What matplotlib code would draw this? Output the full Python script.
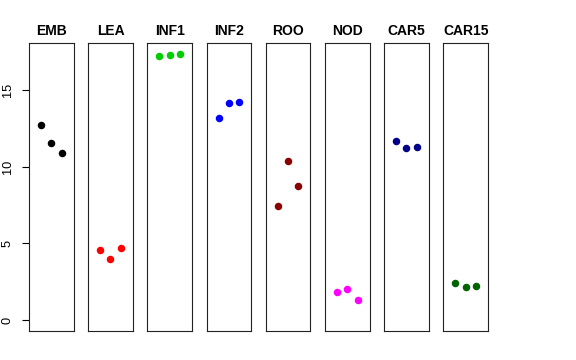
import matplotlib
matplotlib.use("Agg")
import matplotlib.pyplot as plt

plt.rcParams['font.family'] = ['Liberation Sans', 'DejaVu Sans']

tissues = ["EMB", "LEA", "INF1", "INF2", "ROO", "NOD", "CAR5", "CAR15"]
colors = ["black", "red", "#00CD00", "blue", "#8B0000", "magenta", "#00008B", "#006400"]

emb = [12.68, 11.53, 10.90]
lea = [4.60, 3.99, 4.68]
inf1 = [17.17, 17.27, 17.32]
inf2 = [13.15, 14.15, 14.22]
roo = [7.43, 10.36, 8.76]
nod = [1.86, 2.06, 1.30]
car5 = [11.68, 11.23, 11.27]
car15 = [2.43, 2.17, 2.21]

reps = [1, 2, 3]
yticks = [0, 5, 10, 15]

series = [emb, lea, inf1, inf2, roo, nod, car5, car15]

W, H = 576, 360
fig = plt.figure(figsize=(W / 100, H / 100), dpi=100)

ylo, yhi = 0, 17.32
pad = (yhi - ylo) * 0.04

for i, (name, vals, col) in enumerate(zip(tissues, series, colors)):
    left = 29 + i * 59.2
    ax = fig.add_axes([left / W, 1 - 331 / H, 44.5 / W, (331 - 43.3) / H])
    ax.plot(reps, vals, 'o', color=col, markersize=4.4, linestyle='none')
    ax.set_xlim(0 - 0.16, 4 + 0.16)
    ax.set_ylim(ylo - pad, yhi + pad)
    ax.set_xticks([])
    for s in ax.spines.values():
        s.set_linewidth(0.8)
        s.set_color("#222222")
    ax.set_title(name, fontsize=10, fontweight='bold', pad=6)
    if i == 0:
        ax.set_yticks(yticks)
        ax.set_yticklabels([str(t) for t in yticks], rotation=90, va='center', fontsize=9.2)
        ax.tick_params(axis='y', length=5, width=0.8, pad=6)
    else:
        ax.set_yticks([])

fig.savefig("out.png", dpi=100)
